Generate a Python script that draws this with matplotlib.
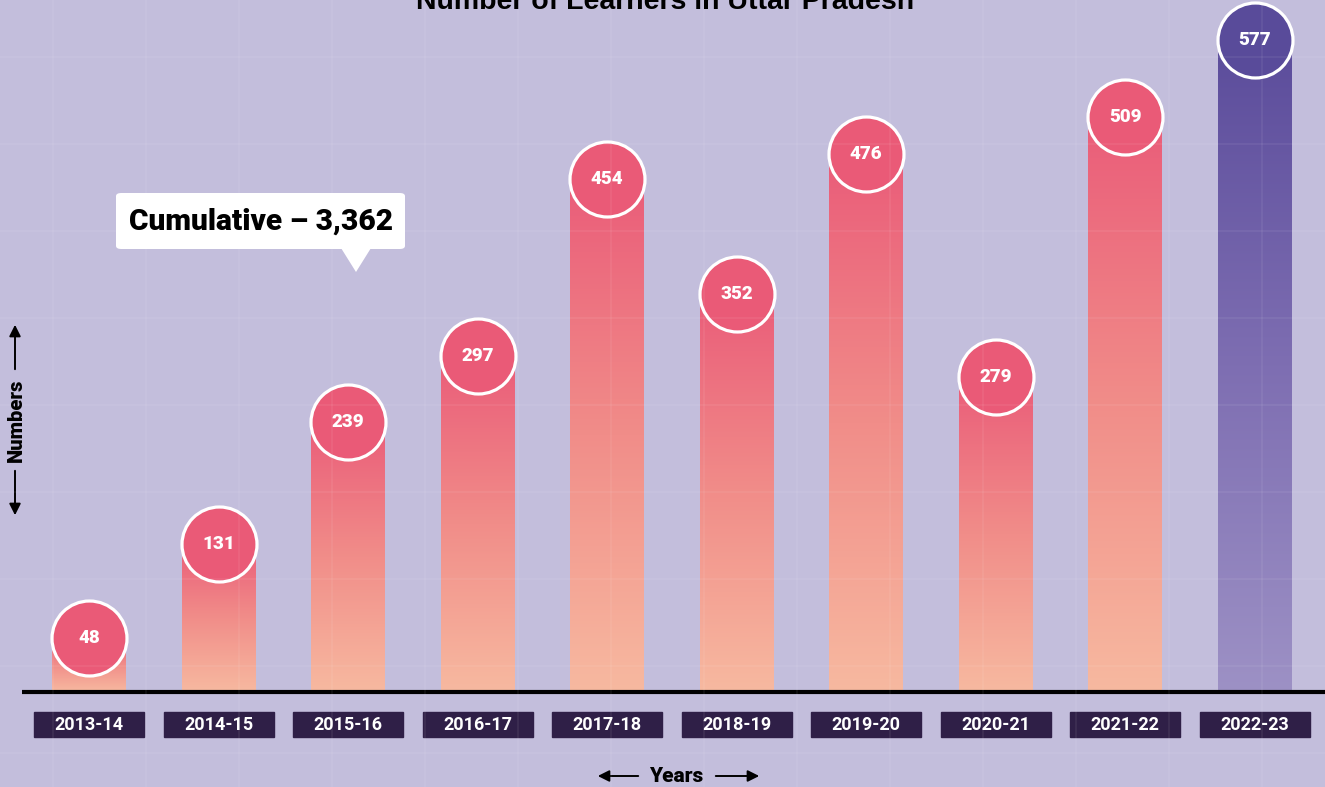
import numpy as np
import matplotlib
matplotlib.use("Agg")
import matplotlib.pyplot as plt
from matplotlib.colors import LinearSegmentedColormap
from matplotlib.patches import Rectangle, FancyBboxPatch, Polygon, FancyArrowPatch

# --- DATA ---
years = ["2013-14", "2014-15", "2015-16", "2016-17", "2017-18",
         "2018-19", "2019-20", "2020-21", "2021-22", "2022-23"]
learners = [48, 131, 239, 297, 454, 352, 476, 279, 509, 577]
cumulative_label = "Cumulative \u2013 3,362"
title = "Number of Learners in Uttar Pradesh"

# --- STYLE ---
W, H = 1325, 787
BG = "#C3BEDC"
pink_cmap = LinearSegmentedColormap.from_list("pink", ["#F7B9A0", "#F18D89", "#EA5C79"])
purple_cmap = LinearSegmentedColormap.from_list("purple", ["#9D91C5", "#7E6EB2", "#5B4C9B"])
plt.rcParams["font.family"] = ["Roboto", "DejaVu Sans"]

fig = plt.figure(figsize=(W / 100, H / 100), dpi=100)
fig.patch.set_facecolor(BG)
ax = fig.add_axes([0, 0, 1, 1])
ax.set_facecolor(BG)

# pixel layout -> data limits
x0_px, step_px = 89, 129.5          # first bar centre, spacing
base_px, scale = 692, 1.13          # baseline (from top), px per learner
ax.set_xlim(-x0_px / step_px, (W - x0_px) / step_px)
ax.set_ylim(-(H - base_px) / scale, base_px / scale)
ax.axis("off")


def fx(x):
    return x / W


def fy(y):
    return 1 - y / H


def py(y):
    # pixel row -> data value
    return (base_px - y) / scale


# faint background grid
for gx in np.arange(53, W, 93):
    fig.add_artist(plt.Line2D([fx(gx), fx(gx)], [0, 1], color="white", alpha=0.07, lw=1.2))
for gy in np.arange(57, H, 87):
    fig.add_artist(plt.Line2D([0, 1], [fy(gy), fy(gy)], color="white", alpha=0.07, lw=1.2))

bar_w = 74 / step_px
bw = 110 / step_px
grad = np.linspace(0, 1, 256).reshape(-1, 1)
for i, (yr, v) in enumerate(zip(years, learners)):
    last = i == len(years) - 1
    cmap = purple_cmap if last else pink_cmap
    ax.imshow(grad, cmap=cmap, origin="lower", aspect="auto",
              extent=(i - bar_w / 2, i + bar_w / 2, 0, v), zorder=2)
    ax.scatter([i], [v], s=54 ** 2, color="#594B9A" if last else "#EA5A77",
               edgecolors="white", linewidths=2.3, zorder=4)
    ax.text(i, v, str(v), color="white", fontsize=13.5, fontweight="heavy",
            ha="center", va="center", zorder=5)
    # year label box
    ax.add_patch(Rectangle((i - bw / 2, py(737)), bw, py(712) - py(737),
                           color="#2F1F47", zorder=3))
    ax.text(i, py(724.5), yr, color="white", fontsize=13, fontweight="bold",
            ha="center", va="center", zorder=4)

# baseline
ax.plot([(22 - x0_px) / step_px, (W - x0_px) / step_px], [0, 0],
        color="black", lw=3, zorder=6, solid_capstyle="butt")

# title (cut at top)
fig.text(fx(665), fy(9), title, fontsize=20.5, fontweight="bold", color="black",
         ha="center", va="baseline", family=["Liberation Sans", "DejaVu Sans"])

# callout
fig.add_artist(FancyBboxPatch((fx(116), fy(249)), fx(405) - fx(116), fy(193) - fy(249),
                              boxstyle="round,pad=0,rounding_size=0.004",
                              facecolor="white", edgecolor="none", transform=fig.transFigure))
fig.add_artist(Polygon([(fx(341), fy(248)), (fx(371), fy(248)), (fx(356), fy(272))],
                       closed=True, facecolor="white", edgecolor="none",
                       transform=fig.transFigure))
fig.text(fx(261), fy(222), cumulative_label, fontsize=21.5, fontweight="heavy",
         color="black", ha="center", va="center")

# axis labels with arrows
arrow = dict(arrowstyle="-|>", color="black", lw=1.4, mutation_scale=17,
             transform=fig.transFigure)
fig.text(fx(16), fy(420), "Numbers", rotation=90, fontsize=14.5, fontweight="heavy",
         ha="center", va="center")
fig.add_artist(FancyArrowPatch((fx(15), fy(372)), (fx(15), fy(322)), **arrow))
fig.add_artist(FancyArrowPatch((fx(15), fy(468)), (fx(15), fy(518)), **arrow))
fig.text(fx(676), fy(776), "Years", fontsize=15, fontweight="heavy",
         ha="center", va="center")
fig.add_artist(FancyArrowPatch((fx(641), fy(776)), (fx(595), fy(776)), **arrow))
fig.add_artist(FancyArrowPatch((fx(713), fy(776)), (fx(762), fy(776)), **arrow))

fig.savefig("out.png", dpi=100, facecolor=BG)
